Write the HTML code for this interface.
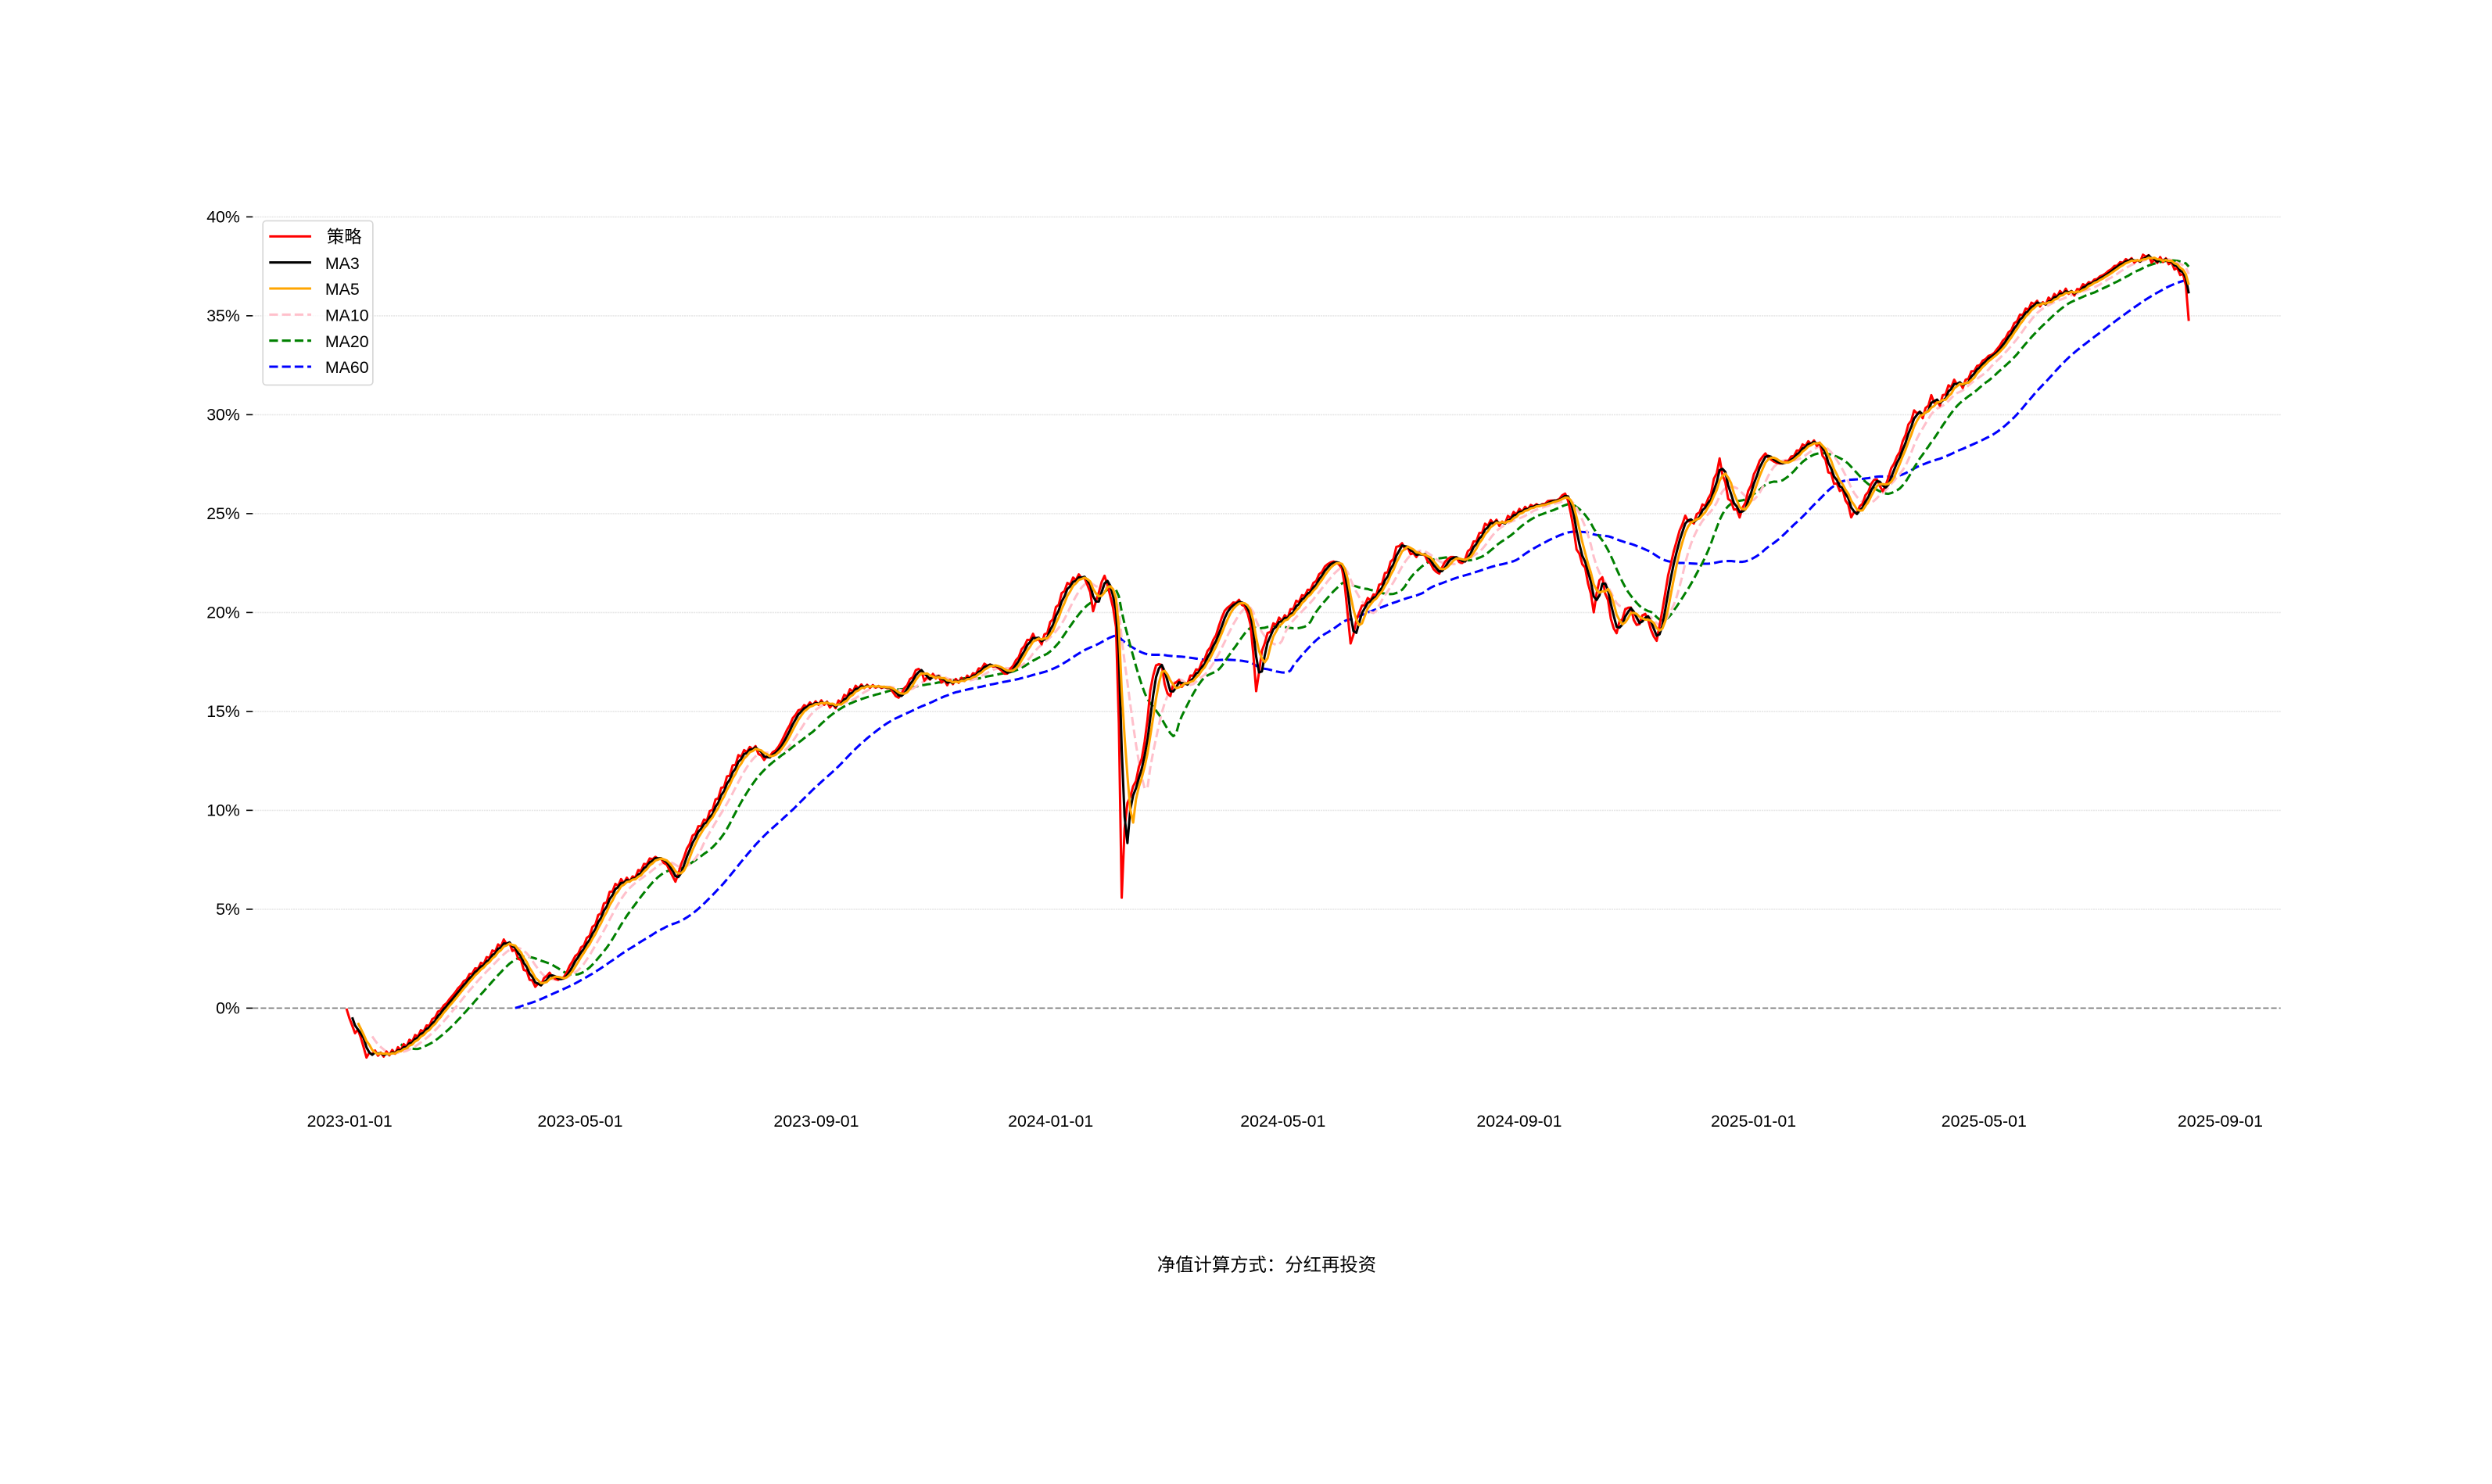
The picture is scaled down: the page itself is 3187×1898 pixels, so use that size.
<!DOCTYPE html>
<html><head><meta charset="utf-8"><style>
html,body{margin:0;padding:0;background:#fff;}
svg{display:block;}
text{font-family:"WenQuanYi Zen Hei","Liberation Sans","Noto Sans CJK SC",sans-serif;fill:#000;}
</style></head><body>
<svg id="s" width="3187" height="1898" viewBox="0 0 1568 934" preserveAspectRatio="none" xmlns="http://www.w3.org/2000/svg">
<g id="grid"></g>
<g id="lines" fill="none" stroke-linejoin="round"></g>
<g id="legend">
<rect x="165.4" y="139" width="69.2" height="103.3" rx="2" fill="#fff" fill-opacity="0.8" stroke="#d6d6d6" stroke-width="0.8"/>
<line x1="169.4" y1="148.8" x2="195.8" y2="148.8" stroke="red" stroke-width="1.5"/>
<line x1="169.4" y1="165.2" x2="195.8" y2="165.2" stroke="#000" stroke-width="1.5"/>
<line x1="169.4" y1="181.6" x2="195.8" y2="181.6" stroke="orange" stroke-width="1.5"/>
<line x1="169.4" y1="198" x2="195.8" y2="198" stroke="pink" stroke-width="1.5" stroke-dasharray="5.5,2.5"/>
<line x1="169.4" y1="214.4" x2="195.8" y2="214.4" stroke="green" stroke-width="1.5" stroke-dasharray="5.5,2.5"/>
<line x1="169.4" y1="230.8" x2="195.8" y2="230.8" stroke="blue" stroke-width="1.5" stroke-dasharray="5.5,2.5"/>
<text x="205.6" y="152.8" font-size="11">策略</text>
<text x="204.6" y="169.2" font-size="10.5">MA3</text>
<text x="204.6" y="185.6" font-size="10.5">MA5</text>
<text x="204.6" y="202" font-size="10.5">MA10</text>
<text x="204.6" y="218.4" font-size="10.5">MA20</text>
<text x="204.6" y="234.8" font-size="10.5">MA60</text>
</g>
<text x="797" y="800" font-size="11.5" text-anchor="middle">净值计算方式：分红再投资</text>
</svg>
<script>
var NS="http://www.w3.org/2000/svg";
function el(p,t,a,txt){var e=document.createElementNS(NS,t);for(var k in a)e.setAttribute(k,a[k]);if(txt!=null)e.textContent=txt;p.appendChild(e);return e;}
var g=document.getElementById('grid');
var y0=634.5,y40=136.5,per=(y0-y40)/8;
for(var i=0;i<=8;i++){var y=y0-i*per;
 if(i>0)el(g,'line',{x1:159,y1:y,x2:1435,y2:y,stroke:'#e6e6e6','stroke-width':0.8,'stroke-dasharray':'1,0.5'});
 el(g,'line',{x1:155,y1:y,x2:159,y2:y,stroke:'#000','stroke-width':0.8});
 el(g,'text',{x:151,y:y+3.6,'font-size':10.5,'text-anchor':'end'},(i*5)+'%');}
el(g,'line',{x1:159,y1:y0,x2:1435,y2:y0,stroke:'#808080','stroke-width':0.9,'stroke-dasharray':'3.5,1.5'});
var xl=['2023-01-01','2023-05-01','2023-09-01','2024-01-01','2024-05-01','2024-09-01','2025-01-01','2025-05-01','2025-09-01'];
var days=[0,120,243,365,486,609,731,851,974];
days.forEach(function(d,i){var x=220+d*(1177/974);el(g,'text',{x:x,y:709,'font-size':10.5,'text-anchor':'middle'},xl[i]);});
var P=[[218,635],[223,650],[226,648],[230,665],[235,662],[240,664],[248,662],[255,658],[262,652],[270,645],[275,638],[282,630],[290,620],[297,612],[305,605],[312,597],[318,592],[325,600],[330,610],[336,620],[340,620],[345,612],[350,617],[355,615],[360,605],[365,598],[370,590],[375,580],[380,570],[385,560],[390,555],[398,553],[405,545],[410,540],[415,540],[420,545],[425,555],[430,540],[435,528],[440,520],[445,515],[450,505],[455,495],[460,485],[465,476],[470,472],[475,470],[480,478],[485,475],[490,470],[495,460],[500,450],[505,445],[510,443],[518,442],[525,445],[530,440],[535,435],[540,432],[550,432],[560,433],[565,440],[570,432],[578,420],[582,428],[588,425],[595,430],[605,428],[612,425],[620,418],[628,420],[633,425],[640,415],[645,405],[650,400],[655,405],[660,395],[665,382],[670,370],[675,365],[680,362],[685,368],[688,385],[692,370],[695,362],[700,380],[703,400],[706,565],[708,510],[715,490],[720,470],[725,425],[730,415],[735,440],[740,428],[745,432],[750,425],[755,420],[760,410],[765,400],[770,385],[775,380],[780,378],[785,385],[788,400],[790,435],[795,405],[800,395],[805,390],[810,388],[815,380],[820,375],[825,370],[830,362],[835,355],[840,353],[845,358],[850,405],[855,385],[860,378],[865,375],[870,365],[875,355],[880,342],[885,345],[890,350],[895,348],[900,355],[905,362],[910,352],[915,350],[920,355],[925,345],[930,338],[935,330],[940,328],[945,330],[950,325],[955,322],[960,320],[965,318],[970,318],[975,315],[980,315],[985,310],[988,320],[992,345],[998,360],[1003,385],[1007,360],[1012,380],[1016,400],[1020,390],[1025,380],[1030,395],[1035,385],[1042,405],[1045,390],[1050,360],[1055,340],[1060,325],[1065,330],[1070,320],[1075,315],[1082,290],[1088,315],[1095,325],[1100,310],[1105,295],[1110,285],[1115,290],[1120,292],[1125,290],[1130,285],[1135,280],[1140,278],[1145,280],[1150,295],[1155,305],[1160,310],[1165,325],[1170,320],[1175,310],[1180,300],[1185,310],[1190,295],[1195,285],[1200,270],[1205,258],[1210,262],[1215,250],[1220,255],[1225,245],[1230,240],[1235,243],[1240,235],[1245,230],[1250,225],[1255,222],[1260,215],[1265,208],[1270,200],[1275,195],[1280,190],[1285,192],[1290,188],[1295,185],[1300,183],[1305,185],[1310,180],[1315,178],[1320,175],[1325,172],[1330,168],[1335,165],[1340,163],[1345,165],[1350,160],[1355,165],[1360,163],[1365,165],[1370,170],[1375,175],[1378,202]];
var step=1.8,xs=[],ys=[],j=0;
for(var x=218;x<=1378.01;x+=step){while(j<P.length-2&&P[j+1][0]<x)j++;var a=P[j],b=P[j+1];var t=(x-a[0])/(b[0]-a[0]);t=Math.max(0,Math.min(1,t));xs.push(x);ys.push(a[1]+(b[1]-a[1])*t+1.5*Math.sin(x*1.7));}
P.forEach(function(p){if(p[0]==706||p[0]==790||p[0]==850||p[0]==1378){var best=0,bd=1e9;xs.forEach(function(x,i){var d=Math.abs(x-p[0]);if(d<bd){bd=d;best=i;}});ys[best]=p[1];}});
var L=document.getElementById('lines');
function path(arr,start){var d='';for(var i=start;i<arr.length;i++)d+=(i==start?'M':'L')+xs[i].toFixed(1)+','+arr[i].toFixed(1);return d;}
function ma(n){var o=[],s=0;for(var i=0;i<ys.length;i++){s+=ys[i];if(i>=n)s-=ys[i-n];o.push(i>=n-1?s/n:null);}return o;}
el(L,'path',{d:path(ma(60),59),stroke:'blue','stroke-width':1.5,'stroke-dasharray':'5.5,2.5'});
el(L,'path',{d:path(ma(20),19),stroke:'green','stroke-width':1.5,'stroke-dasharray':'5.5,2.5'});
el(L,'path',{d:path(ma(10),9),stroke:'pink','stroke-width':1.5,'stroke-dasharray':'5.5,2.5'});
el(L,'path',{d:path(ys,0),stroke:'red','stroke-width':1.5});
el(L,'path',{d:path(ma(3),2),stroke:'#000','stroke-width':1.5});
el(L,'path',{d:path(ma(5),4),stroke:'orange','stroke-width':1.5});
</script>
</body></html>
